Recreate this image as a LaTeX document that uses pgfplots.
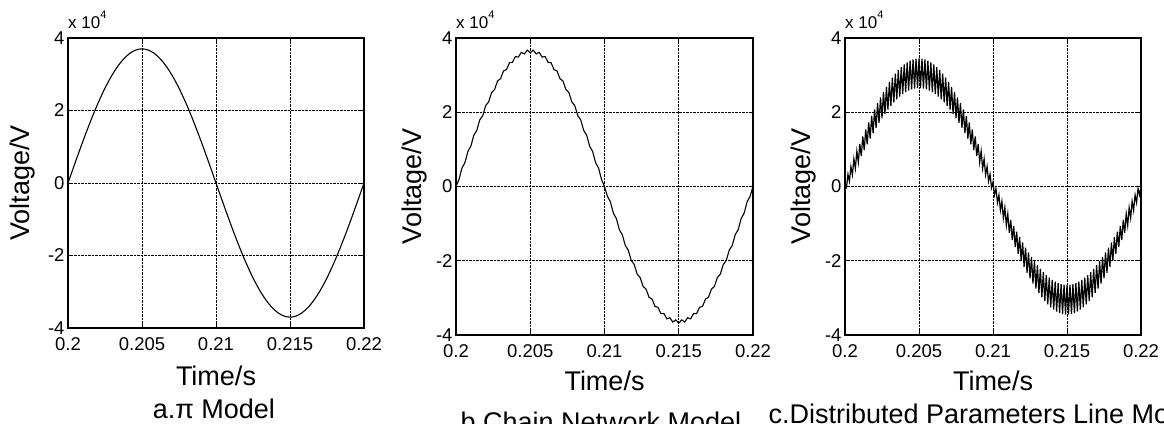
\documentclass[border=0pt]{standalone}
\usepackage{fontspec}
\setmainfont{Liberation Sans}
\usepackage{pgfplots}
\pgfplotsset{compat=1.18}

\newcommand{\tickfont}{\fontsize{18.5}{18.5}\selectfont}
\newcommand{\labfont}{\fontsize{27}{27}\selectfont}
\newcommand{\expo}{\fontsize{17}{17}\selectfont x 10\raisebox{0.55em}{\fontsize{11}{11}\selectfont 4}}

\pgfplotsset{
  matlab/.style={
    scale only axis, anchor=north west,
    xmin=0.2, xmax=0.22, ymin=-40000, ymax=40000,
    xtick={0.2,0.205,0.21,0.215,0.22},
    xticklabels={0.2,0.205,0.21,0.215,0.22},
    ytick={-40000,-20000,0,20000,40000},
    yticklabels={-4,-2,0,2,4},
    scaled ticks=false,
    tick align=inside, major tick length=4pt,
    tick style={black, line width=0.8pt},
    grid=major, grid style={black, densely dotted, line width=0.8pt},
    axis line style={line width=1.6pt},
    tick label style={font=\tickfont},
    xticklabel style={yshift=-6pt},
    xlabel={Time/s}, ylabel={Voltage/V},
    label style={font=\labfont},
    clip=false,
  },
  curve/.style={black, line width=1.1pt},
}

\begin{document}
\begin{tikzpicture}[x=1pt,y=1pt]
\path[use as bounding box] (0,0) rectangle (1164,-423);

% a. pi model
\begin{axis}[matlab, at={(68pt,-38pt)}, width=296pt, height=290pt,
  xlabel style={at={(axis description cs:0.5,-0.166)}, anchor=center},
  ylabel style={at={(axis description cs:-0.155,0.5)}, anchor=center}]
\addplot[curve] coordinates {
(0.2000,0) (0.2002,2323) (0.2004,4637) (0.2006,6933) (0.2008,9202) (0.2010,11434)
(0.2012,13620) (0.2014,15754) (0.2016,17825) (0.2018,19826) (0.2020,21748)
(0.2022,23585) (0.2024,25328) (0.2026,26972) (0.2028,28509) (0.2030,29934)
(0.2032,31240) (0.2034,32423) (0.2036,33479) (0.2038,34402) (0.2040,35189)
(0.2042,35837) (0.2044,36345) (0.2046,36708) (0.2048,36927) (0.2050,37000)
(0.2052,36927) (0.2054,36708) (0.2056,36345) (0.2058,35837) (0.2060,35189)
(0.2062,34402) (0.2064,33479) (0.2066,32423) (0.2068,31240) (0.2070,29934)
(0.2072,28509) (0.2074,26972) (0.2076,25328) (0.2078,23585) (0.2080,21748)
(0.2082,19826) (0.2084,17825) (0.2086,15754) (0.2088,13620) (0.2090,11434)
(0.2092,9202) (0.2094,6933) (0.2096,4637) (0.2098,2323) (0.2100,0)
(0.2102,-2323) (0.2104,-4637) (0.2106,-6933) (0.2108,-9202) (0.2110,-11434)
(0.2112,-13620) (0.2114,-15754) (0.2116,-17825) (0.2118,-19826) (0.2120,-21748)
(0.2122,-23585) (0.2124,-25328) (0.2126,-26972) (0.2128,-28509) (0.2130,-29934)
(0.2132,-31240) (0.2134,-32423) (0.2136,-33479) (0.2138,-34402) (0.2140,-35189)
(0.2142,-35837) (0.2144,-36345) (0.2146,-36708) (0.2148,-36927) (0.2150,-37000)
(0.2152,-36927) (0.2154,-36708) (0.2156,-36345) (0.2158,-35837) (0.2160,-35189)
(0.2162,-34402) (0.2164,-33479) (0.2166,-32423) (0.2168,-31240) (0.2170,-29934)
(0.2172,-28509) (0.2174,-26972) (0.2176,-25328) (0.2178,-23585) (0.2180,-21748)
(0.2182,-19826) (0.2184,-17825) (0.2186,-15754) (0.2188,-13620) (0.2190,-11434)
(0.2192,-9202) (0.2194,-6933) (0.2196,-4637) (0.2198,-2323) (0.2200,0)
};
\node[anchor=base west, inner sep=0pt] at ([yshift=10pt]axis description cs:0,1) {\expo};
\node[font=\labfont, anchor=center] at (axis description cs:0.493,-0.279) {a.π Model};
\end{axis}

% b. chain network model
\begin{axis}[matlab, at={(456pt,-38pt)}, width=297pt, height=297pt,
  xlabel style={at={(axis description cs:0.5,-0.155)}, anchor=center},
  ylabel style={at={(axis description cs:-0.141,0.5)}, anchor=center}]
\addplot[curve] coordinates {
(0.2000,0) (0.2002,1886) (0.2004,4962) (0.2006,6421) (0.2008,9452) (0.2010,10848)
(0.2012,13800) (0.2014,15098) (0.2016,17936) (0.2018,19104) (0.2020,21796)
(0.2022,22802) (0.2024,25318) (0.2026,26135) (0.2028,28447) (0.2030,29048)
(0.2032,31134) (0.2034,31498) (0.2036,33336) (0.2038,33444) (0.2040,35019)
(0.2042,34856) (0.2044,36155) (0.2046,35713) (0.2048,36728) (0.2050,36000)
(0.2052,36728) (0.2054,35713) (0.2056,36155) (0.2058,34856) (0.2060,35019)
(0.2062,33444) (0.2064,33336) (0.2066,31498) (0.2068,31134) (0.2070,29048)
(0.2072,28447) (0.2074,26135) (0.2076,25318) (0.2078,22802) (0.2080,21796)
(0.2082,19104) (0.2084,17936) (0.2086,15098) (0.2088,13800) (0.2090,10848)
(0.2092,9452) (0.2094,6421) (0.2096,4962) (0.2098,1886) (0.2100,0)
(0.2102,-2686) (0.2104,-4162) (0.2106,-7221) (0.2108,-8652) (0.2110,-11648)
(0.2112,-13000) (0.2114,-15898) (0.2116,-17136) (0.2118,-19904) (0.2120,-20996)
(0.2122,-23602) (0.2124,-24518) (0.2126,-26935) (0.2128,-27647) (0.2130,-29848)
(0.2132,-30334) (0.2134,-32298) (0.2136,-32536) (0.2138,-34244) (0.2140,-34219)
(0.2142,-35656) (0.2144,-35355) (0.2146,-36513) (0.2148,-35928) (0.2150,-36800)
(0.2152,-35928) (0.2154,-36513) (0.2156,-35355) (0.2158,-35656) (0.2160,-34219)
(0.2162,-34244) (0.2164,-32536) (0.2166,-32298) (0.2168,-30334) (0.2170,-29848)
(0.2172,-27647) (0.2174,-26935) (0.2176,-24518) (0.2178,-23602) (0.2180,-20996)
(0.2182,-19904) (0.2184,-17136) (0.2186,-15898) (0.2188,-13000) (0.2190,-11648)
(0.2192,-8652) (0.2194,-7221) (0.2196,-4162) (0.2198,-2686) (0.2200,0)
};
\node[anchor=base west, inner sep=0pt] at ([yshift=10pt]axis description cs:0,1) {\expo};
\node[font=\labfont, anchor=center] at (axis description cs:0.488,-0.293) {b.Chain Network Model};
\end{axis}

% c. distributed parameters line model
\begin{axis}[matlab, at={(845pt,-38pt)}, width=296pt, height=297pt,
  xlabel style={at={(axis description cs:0.5,-0.155)}, anchor=center},
  ylabel style={at={(axis description cs:-0.141,0.5)}, anchor=center}]
\addplot[curve, line width=1.2pt] coordinates {
(0.2000,0) (0.2001,-330) (0.2002,3291) (0.2003,1407) (0.2004,5373) (0.2005,3133)
(0.2006,7440) (0.2007,4842) (0.2008,9481) (0.2009,6528) (0.2010,11490)
(0.2011,8183) (0.2012,13458) (0.2013,9801) (0.2014,15378) (0.2015,11376)
(0.2016,17242) (0.2017,12900) (0.2018,19043) (0.2019,14370) (0.2020,20773)
(0.2021,15778) (0.2022,22426) (0.2023,17118) (0.2024,23996) (0.2025,18387)
(0.2026,25475) (0.2027,19578) (0.2028,26858) (0.2029,20687) (0.2030,28140)
(0.2031,21710) (0.2032,29316) (0.2033,22642) (0.2034,30381) (0.2035,23481)
(0.2036,31331) (0.2037,24222) (0.2038,32162) (0.2039,24862) (0.2040,32870)
(0.2041,25400) (0.2042,33454) (0.2043,25833) (0.2044,33910) (0.2045,26159)
(0.2046,34237) (0.2047,26377) (0.2048,34434) (0.2049,26486) (0.2050,34500)
(0.2051,26486) (0.2052,34434) (0.2053,26377) (0.2054,34237) (0.2055,26159)
(0.2056,33910) (0.2057,25833) (0.2058,33454) (0.2059,25400) (0.2060,32870)
(0.2061,24862) (0.2062,32162) (0.2063,24222) (0.2064,31331) (0.2065,23481)
(0.2066,30381) (0.2067,22642) (0.2068,29316) (0.2069,21710) (0.2070,28140)
(0.2071,20687) (0.2072,26858) (0.2073,19578) (0.2074,25475) (0.2075,18387)
(0.2076,23996) (0.2077,17118) (0.2078,22426) (0.2079,15778) (0.2080,20773)
(0.2081,14370) (0.2082,19043) (0.2083,12900) (0.2084,17242) (0.2085,11376)
(0.2086,15378) (0.2087,9801) (0.2088,13458) (0.2089,8183) (0.2090,11490)
(0.2091,6528) (0.2092,9481) (0.2093,4842) (0.2094,7440) (0.2095,3133)
(0.2096,5373) (0.2097,1407) (0.2098,3291) (0.2099,-330) (0.2100,1200)
(0.2101,-2246) (0.2102,-539) (0.2103,-4334) (0.2104,-2272) (0.2105,-6409)
(0.2106,-3990) (0.2107,-8464) (0.2108,-5689) (0.2109,-10490) (0.2110,-7360)
(0.2111,-12480) (0.2112,-8997) (0.2113,-14425) (0.2114,-10594) (0.2115,-16318)
(0.2116,-12144) (0.2117,-18151) (0.2118,-13642) (0.2119,-19917) (0.2120,-15082)
(0.2121,-21610) (0.2122,-16457) (0.2123,-23222) (0.2124,-17762) (0.2125,-24747)
(0.2126,-18992) (0.2127,-26179) (0.2128,-20143) (0.2129,-27512) (0.2130,-21210)
(0.2131,-28742) (0.2132,-22188) (0.2133,-29863) (0.2134,-23074) (0.2135,-30871)
(0.2136,-23864) (0.2137,-31761) (0.2138,-24555) (0.2139,-32531) (0.2140,-25144)
(0.2141,-33178) (0.2142,-25630) (0.2143,-33698) (0.2144,-26009) (0.2145,-34090)
(0.2146,-26281) (0.2147,-34352) (0.2148,-26445) (0.2149,-34484) (0.2150,-26500)
(0.2151,-34484) (0.2152,-26445) (0.2153,-34352) (0.2154,-26281) (0.2155,-34090)
(0.2156,-26009) (0.2157,-33698) (0.2158,-25630) (0.2159,-33178) (0.2160,-25144)
(0.2161,-32531) (0.2162,-24555) (0.2163,-31761) (0.2164,-23864) (0.2165,-30871)
(0.2166,-23074) (0.2167,-29863) (0.2168,-22188) (0.2169,-28742) (0.2170,-21210)
(0.2171,-27512) (0.2172,-20143) (0.2173,-26179) (0.2174,-18992) (0.2175,-24747)
(0.2176,-17762) (0.2177,-23222) (0.2178,-16457) (0.2179,-21610) (0.2180,-15082)
(0.2181,-19917) (0.2182,-13642) (0.2183,-18151) (0.2184,-12144) (0.2185,-16318)
(0.2186,-10594) (0.2187,-14425) (0.2188,-8997) (0.2189,-12480) (0.2190,-7360)
(0.2191,-10490) (0.2192,-5689) (0.2193,-8464) (0.2194,-3990) (0.2195,-6409)
(0.2196,-2272) (0.2197,-4334) (0.2198,-539) (0.2199,-2246) (0.2200,0)
};
\node[anchor=base west, inner sep=0pt] at ([yshift=10pt]axis description cs:0,1) {\expo};
\node[font=\labfont, anchor=west] at (axis description cs:-0.27,-0.266) {c.Distributed Parameters Line Model};
\end{axis}
\end{tikzpicture}
\end{document}
